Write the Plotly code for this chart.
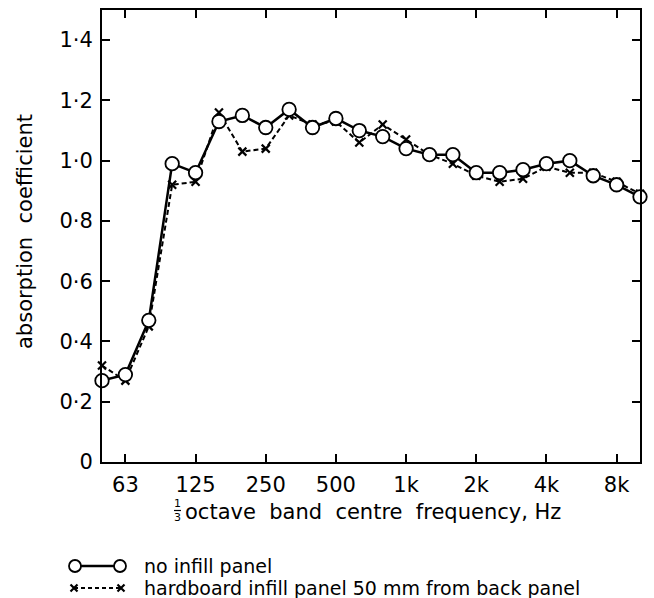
import plotly.graph_objects as go

# 1/3 octave band centre frequencies (Hz)
bands = ["50", "63", "80", "100", "125", "160", "200", "250", "315", "400", "500", "630",
         "800", "1k", "1.25k", "1.6k", "2k", "2.5k", "3.15k", "4k", "5k", "6.3k", "8k", "10k"]
no_infill = [0.27, 0.29, 0.47, 0.99, 0.96, 1.13, 1.15, 1.11, 1.17, 1.11, 1.14, 1.10,
             1.08, 1.04, 1.02, 1.02, 0.96, 0.96, 0.97, 0.99, 1.00, 0.95, 0.92, 0.88]
hardboard = [0.32, 0.27, 0.45, 0.92, 0.93, 1.16, 1.03, 1.04, 1.15, 1.12, 1.13, 1.06,
             1.12, 1.07, 1.02, 0.99, 0.95, 0.93, 0.94, 0.98, 0.96, 0.96, 0.93, 0.89]
x_tick_labels = ["63", "125", "250", "500", "1k", "2k", "4k", "8k"]
y_tick_vals = [0, 0.2, 0.4, 0.6, 0.8, 1.0, 1.2, 1.4]
y_tick_text = ["0", "0·2", "0·4", "0·6", "0·8", "1·0", "1·2", "1·4"]
legend_names = ["no infill panel", "hardboard infill panel 50 mm from back panel"]

xpos = list(range(len(bands)))
x_tick_vals = [bands.index(t) for t in x_tick_labels]

FONT = "DejaVu Sans, Liberation Sans, sans-serif"
W, H = 654, 598
ML, MR, MT, MB = 0, 14, 10, 0
PW, PH = W - ML - MR, H - MT - MB
AX_L, AX_B = 102, 462   # plot box left / bottom in pixels


def fx(px):
    return (px - ML) / PW


def fy(py):
    return (H - MB - py) / PH


fig = go.Figure()

circle_marker = dict(symbol="circle", size=13.5, color="white",
                     line=dict(color="black", width=1.8))
cross_marker = dict(symbol="x-thin", size=8, line=dict(color="black", width=2.2))

fig.add_trace(go.Scatter(x=xpos, y=hardboard, mode="lines+markers",
                         line=dict(color="black", width=2, dash="5px,3px"),
                         marker=cross_marker, cliponaxis=False, showlegend=False))
fig.add_trace(go.Scatter(x=xpos, y=no_infill, mode="lines+markers",
                         line=dict(color="black", width=2.5),
                         marker=circle_marker, cliponaxis=False, showlegend=False))

# legend samples drawn on a pixel-scaled helper axis
leg_y = [566, 588]
fig.add_trace(go.Scatter(x=[75, 120], y=[leg_y[0]] * 2, xaxis="x2", yaxis="y2",
                         mode="lines+markers", line=dict(color="black", width=2.5),
                         marker=dict(symbol="circle", size=12, color="white",
                                     line=dict(color="black", width=1.8)),
                         cliponaxis=False, showlegend=False))
fig.add_trace(go.Scatter(x=[74, 121], y=[leg_y[1]] * 2, xaxis="x2", yaxis="y2",
                         mode="lines+markers", line=dict(color="black", width=2, dash="4px,3px"),
                         marker=dict(symbol="x-thin", size=7, line=dict(color="black", width=2.2)),
                         cliponaxis=False, showlegend=False))

axis_common = dict(showline=True, linecolor="black", linewidth=2, mirror="ticks",
                   ticks="inside", ticklen=8, tickwidth=1.5, tickcolor="black",
                   showgrid=False, zeroline=False,
                   tickfont=dict(family=FONT, size=21, color="black"))

fig.update_layout(
    width=W, height=H, autosize=False,
    margin=dict(l=ML, r=MR, t=MT, b=MB, autoexpand=False),
    paper_bgcolor="white", plot_bgcolor="white",
    font=dict(family=FONT, color="black"),
    xaxis=dict(domain=[fx(AX_L), 1], range=[0, len(bands) - 1],
               tickvals=x_tick_vals, ticktext=x_tick_labels,
               ticklabelstandoff=3, **axis_common),
    yaxis=dict(domain=[fy(AX_B), 1], range=[0, 1.5],
               tickvals=y_tick_vals, ticktext=y_tick_text,
               ticklabelstandoff=3, **axis_common),
    xaxis2=dict(domain=[0, 1], range=[ML, W - MR], visible=False, anchor="y2"),
    yaxis2=dict(domain=[0, fy(AX_B)], range=[H - MB, AX_B], visible=False, anchor="x2"),
)

# axis titles
fig.add_annotation(x=fx(25), y=fy(232), xref="paper", yref="paper",
                   text="absorption  coefficient",
                   textangle=-90, showarrow=False, xanchor="center", yanchor="middle",
                   font=dict(family=FONT, size=21, color="black"))
fig.add_annotation(x=fx(183), y=fy(512), xref="paper", yref="paper",
                   text="octave  band  centre  frequency, Hz",
                   showarrow=False, xanchor="left", yanchor="middle",
                   font=dict(family=FONT, size=21, color="black"))
fig.add_annotation(x=fx(177.5), y=fy(504), xref="paper", yref="paper", text="1",
                   showarrow=False, xanchor="center", yanchor="middle",
                   font=dict(family=FONT, size=11, color="black"))
fig.add_annotation(x=fx(177.5), y=fy(517), xref="paper", yref="paper", text="3",
                   showarrow=False, xanchor="center", yanchor="middle",
                   font=dict(family=FONT, size=11, color="black"))
fig.add_shape(type="line", xref="paper", yref="paper", x0=fx(174), x1=fx(181),
              y0=fy(510.5), y1=fy(510.5), line=dict(color="black", width=1.2))

# legend texts
for name, yy in zip(legend_names, leg_y):
    fig.add_annotation(x=fx(142), y=fy(yy), xref="paper", yref="paper", text=name,
                       showarrow=False, xanchor="left", yanchor="middle",
                       font=dict(family=FONT, size=19, color="black"))

fig.write_html("out.html", config={"responsive": False})
